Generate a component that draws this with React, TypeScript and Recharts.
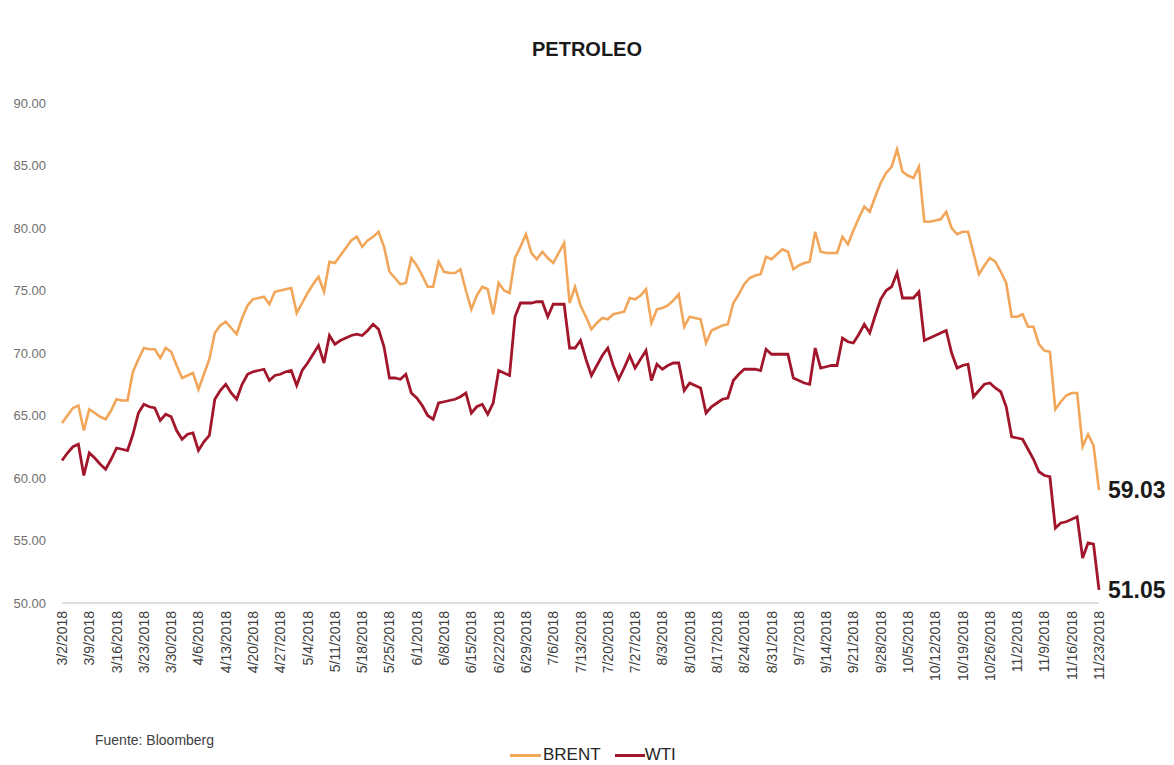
import { LineChart, Line, XAxis, YAxis, LabelList } from "recharts";

const WEEK_LABELS = [
  "3/2/2018", "3/9/2018", "3/16/2018", "3/23/2018", "3/30/2018",
  "4/6/2018", "4/13/2018", "4/20/2018", "4/27/2018",
  "5/4/2018", "5/11/2018", "5/18/2018", "5/25/2018",
  "6/1/2018", "6/8/2018", "6/15/2018", "6/22/2018", "6/29/2018",
  "7/6/2018", "7/13/2018", "7/20/2018", "7/27/2018",
  "8/3/2018", "8/10/2018", "8/17/2018", "8/24/2018", "8/31/2018",
  "9/7/2018", "9/14/2018", "9/21/2018", "9/28/2018",
  "10/5/2018", "10/12/2018", "10/19/2018", "10/26/2018",
  "11/2/2018", "11/9/2018", "11/16/2018", "11/23/2018",
];

// daily closes, one per business day from 3/2/2018
const BRENT = [
  64.4, 65.0, 65.6, 65.8, 63.8, 65.5, 65.2, 64.9, 64.7, 65.4,
  66.3, 66.2, 66.2, 68.5, 69.5, 70.4, 70.3, 70.3, 69.6, 70.4,
  70.1, 69.0, 68.0, 68.2, 68.4, 67.1, 68.3, 69.5, 71.6, 72.2,
  72.5, 72.0, 71.5, 72.8, 73.8, 74.3, 74.4, 74.5, 73.9, 74.9,
  75.0, 75.1, 75.2, 73.2, 74.0, 74.8, 75.5, 76.1, 74.9, 77.3,
  77.2, 77.8, 78.4, 79.0, 79.3, 78.5, 79.0, 79.3, 79.7, 78.5,
  76.5, 76.0, 75.5, 75.6, 77.6, 77.0, 76.2, 75.3, 75.3, 77.3,
  76.5, 76.4, 76.4, 76.7, 75.0, 73.5, 74.6, 75.3, 75.1, 73.1,
  75.6, 75.0, 74.8, 77.6, 78.5, 79.5, 78.0, 77.5, 78.1, 77.6,
  77.2, 78.0, 78.8, 74.0, 75.3, 73.8, 72.9, 71.9, 72.4, 72.8,
  72.7, 73.1, 73.2, 73.3, 74.4, 74.3, 74.6, 75.1, 72.4, 73.5,
  73.6, 73.8, 74.2, 74.7, 72.1, 72.9, 72.8, 72.7, 70.8, 71.8,
  72.0, 72.2, 72.3, 74.0, 74.7, 75.5, 76.0, 76.2, 76.3, 77.7,
  77.5, 77.9, 78.3, 78.1, 76.7, 77.0, 77.2, 77.3, 79.7, 78.1,
  78.0, 78.0, 78.0, 79.3, 78.7, 79.8, 80.8, 81.7, 81.3, 82.5,
  83.6, 84.4, 84.9, 86.3, 84.5, 84.2, 84.0, 84.9, 80.5, 80.5,
  80.6, 80.7, 81.3, 80.0, 79.5, 79.7, 79.7, 78.0, 76.3, 77.0,
  77.6, 77.3, 76.5, 75.6, 72.9, 72.9, 73.1, 72.1, 72.1, 70.7,
  70.2, 70.1, 65.5, 66.1, 66.6, 66.8, 66.8, 62.5, 63.5, 62.6,
  59.03,
];

const WTI = [
  61.4, 62.0, 62.5, 62.7, 60.2, 62.0, 61.6, 61.1, 60.7, 61.5,
  62.4, 62.3, 62.2, 63.5, 65.2, 65.9, 65.7, 65.6, 64.6, 65.1,
  64.9, 63.8, 63.1, 63.5, 63.6, 62.2, 62.9, 63.4, 66.3, 67.0,
  67.5, 66.8, 66.3, 67.5, 68.3, 68.5, 68.6, 68.7, 67.8, 68.2,
  68.3, 68.5, 68.6, 67.4, 68.6, 69.2, 69.9, 70.6, 69.2, 71.4,
  70.7, 71.0, 71.2, 71.4, 71.5, 71.4, 71.8, 72.3, 71.9, 70.5,
  68.0, 68.0, 67.9, 68.3, 66.8, 66.4, 65.8, 65.0, 64.7, 66.0,
  66.1, 66.2, 66.3, 66.5, 66.8, 65.2, 65.7, 65.9, 65.1, 66.0,
  68.6, 68.4, 68.2, 72.9, 74.0, 74.0, 74.0, 74.1, 74.1, 72.9,
  73.9, 73.9, 73.9, 70.4, 70.4, 71.0, 69.5, 68.2, 69.0, 69.8,
  70.4, 69.0, 67.9, 68.8, 69.8, 68.8, 69.5, 70.2, 67.8, 69.1,
  68.7, 69.0, 69.2, 69.2, 67.0, 67.6, 67.4, 67.2, 65.2, 65.7,
  66.0, 66.3, 66.4, 67.8, 68.3, 68.7, 68.7, 68.7, 68.6, 70.3,
  69.9, 69.9, 69.9, 69.9, 68.0, 67.8, 67.6, 67.5, 70.4, 68.8,
  68.9, 69.0, 69.0, 71.2, 70.9, 70.8, 71.5, 72.3, 71.6, 73.0,
  74.3, 75.0, 75.3, 76.4, 74.4, 74.4, 74.4, 74.9, 71.0, 71.2,
  71.4, 71.6, 71.8, 70.0, 68.8, 69.0, 69.1, 66.5, 67.0, 67.5,
  67.6, 67.2, 66.9, 65.7, 63.3, 63.2, 63.1, 62.3, 61.5, 60.5,
  60.2, 60.1, 56.0, 56.4, 56.5, 56.7, 56.9, 53.6, 54.8, 54.7,
  51.05,
];

const Y_TICKS = [50, 55, 60, 65, 70, 75, 80, 85, 90];

const BRENT_COLOR = "#F2A65A";
const WTI_COLOR = "#A2162B";
const FONT = "'Liberation Sans', Arial, sans-serif";

const data = BRENT.map((b, i) => ({ i, brent: b, wti: WTI[i] }));
const xTicks = WEEK_LABELS.map((_, k) => k * 5);
const lastIdx = data.length - 1;

function XTick({ x, y, payload }: any) {
  return (
    <text
      x={x}
      y={y}
      transform={`rotate(-90, ${x}, ${y})`}
      textAnchor="end"
      dy={5}
      fontSize={14}
      fontFamily={FONT}
      fill="#404040"
    >
      {WEEK_LABELS[payload.value / 5]}
    </text>
  );
}

function EndLabel({ x, y, index, value }: any) {
  if (index !== lastIdx) return null;
  return (
    <text
      x={x + 9}
      y={y}
      dy={8}
      fontSize={23}
      fontWeight="bold"
      fontFamily={FONT}
      fill="#1a1a1a"
    >
      {Number(value).toFixed(2)}
    </text>
  );
}

export default function App() {
  return (
    <div
      style={{
        position: "absolute",
        left: 0,
        top: 0,
        width: 1174,
        height: 765,
        background: "#fff",
        fontFamily: FONT,
      }}
    >
      <div
        style={{
          position: "absolute",
          top: 38,
          left: 0,
          width: 1174,
          textAlign: "center",
          fontSize: 20,
          fontWeight: "bold",
          color: "#1a1a1a",
        }}
      >
        PETROLEO
      </div>
      <LineChart
        width={1174}
        height={765}
        data={data}
        margin={{ top: 103, right: 75, left: 0, bottom: 62 }}
      >
        <XAxis
          dataKey="i"
          type="number"
          domain={[0, lastIdx]}
          ticks={xTicks}
          interval={0}
          tick={<XTick />}
          tickLine={false}
          axisLine={{ stroke: "#BFBFBF" }}
          height={100}
        />
        <YAxis
          domain={[50, 90]}
          ticks={Y_TICKS}
          width={62}
          axisLine={false}
          tickLine={false}
          tickSize={0}
          tickMargin={16}
          tickFormatter={(v: number) => v.toFixed(2)}
          tick={{ fontSize: 13, fill: "#6f6f6f", fontFamily: FONT }}
        />
        <Line
          dataKey="brent"
          stroke={BRENT_COLOR}
          strokeWidth={2.6}
          dot={false}
          isAnimationActive={false}
        >
          <LabelList dataKey="brent" content={<EndLabel />} />
        </Line>
        <Line
          dataKey="wti"
          stroke={WTI_COLOR}
          strokeWidth={2.8}
          dot={false}
          isAnimationActive={false}
        >
          <LabelList dataKey="wti" content={<EndLabel />} />
        </Line>
      </LineChart>
      <div
        style={{
          position: "absolute",
          left: 95,
          top: 732,
          fontSize: 14,
          color: "#404040",
        }}
      >
        Fuente: Bloomberg
      </div>
      <div
        style={{
          position: "absolute",
          left: 510,
          top: 745,
          display: "flex",
          alignItems: "center",
          fontSize: 17,
          color: "#262626",
        }}
      >
        <span style={{ width: 31, height: 3, background: BRENT_COLOR, display: "inline-block" }} />
        <span style={{ marginLeft: 2 }}>BRENT</span>
        <span style={{ width: 30, height: 3, background: WTI_COLOR, display: "inline-block", marginLeft: 14 }} />
        <span>WTI</span>
      </div>
    </div>
  );
}
